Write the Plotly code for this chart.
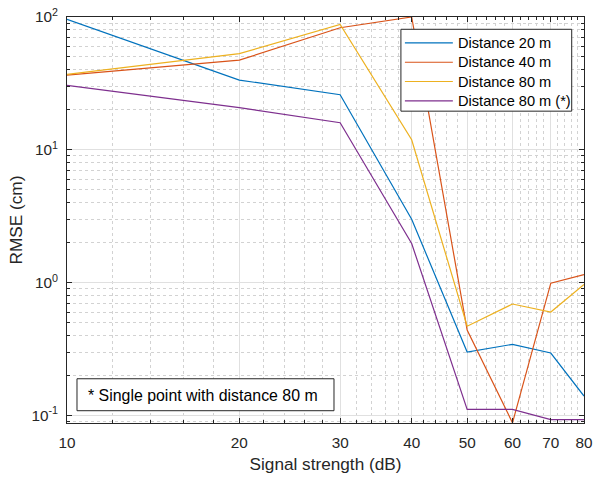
import plotly.graph_objects as go

signal_db = [10, 20, 30, 40, 50, 60, 70, 80]
rmse_20m = [96, 33.5, 26, 3.0, 0.30, 0.343, 0.295, 0.14]
rmse_40m = [36.5, 47.3, 83, 100, 0.44, 0.088, 0.99, 1.15]
rmse_80m = [37, 53, 88, 11.9, 0.47, 0.69, 0.60, 0.97]
rmse_80m_single = [30.6, 20.8, 16, 1.97, 0.111, 0.111, 0.093, 0.093]

series_names = ["Distance 20 m", "Distance 40 m", "Distance 80 m", "Distance 80 m (*)"]
series_colors = ["#0072BD", "#D95319", "#EDB120", "#7E2F8E"]

x_tick_vals = [10, 20, 30, 40, 50, 60, 70, 80]
x_tick_text = ["10", "20", "30", "40", "50", "60", "70", "80"]
y_tick_vals = [0.1, 1, 10, 100]
y_tick_text = ["10<sup>-1</sup>", "10<sup>0</sup>", "10<sup>1</sup>", "10<sup>2</sup>"]

note_text = "* Single point with distance 80 m"

x_minor = [v for v in range(12, 80, 2) if v % 10 != 0]
y_minor = [m * 10 ** e for e in (-2, -1, 0, 1) for m in range(2, 10)]

FONT = "Liberation Sans, Arial, sans-serif"
W, H = 593, 478
ML, MR, MT, MB = 66.7, 8.7, 16.7, 54.7
PW, PH = W - ML - MR, H - MT - MB


def px(x):
    return (x - ML) / PW


def py(y):
    return 1 - (y - MT) / PH


fig = go.Figure()
for vals, name, col in zip([rmse_20m, rmse_40m, rmse_80m, rmse_80m_single], series_names, series_colors):
    fig.add_trace(go.Scatter(x=signal_db, y=vals, mode="lines", name=name,
                             line=dict(color=col, width=1.2), showlegend=False))

axis_common = dict(
    type="log", automargin=False,
    showline=True, linecolor="#262626", linewidth=1, mirror="allticks",
    ticks="inside", ticklen=5, tickcolor="#262626", tickwidth=1,
    showgrid=True, gridcolor="#e0e0e0", gridwidth=1,
    zeroline=False, ticklabeloverflow="allow",
    tickfont=dict(family=FONT, size=15.3, color="#262626"),
)

fig.update_layout(
    width=W, height=H,
    margin=dict(l=ML, r=MR, t=MT, b=MB, autoexpand=False),
    paper_bgcolor="white", plot_bgcolor="white",
    font=dict(family=FONT, color="#262626"),
    xaxis=dict(**axis_common, range=[1, 1.90309],
               tickmode="array", tickvals=x_tick_vals, ticktext=x_tick_text,
               minor=dict(tickmode="array", tickvals=x_minor, ticks="inside", ticklen=3,
                          tickcolor="#262626", showgrid=True, gridcolor="#d2d2d2", griddash="dot"),
               title=dict(text="Signal strength (dB)", font=dict(family=FONT, size=17.2, color="#262626"), standoff=7),
               ticklabelstandoff=6),
    yaxis=dict(**axis_common, range=[-1.057, 2],
               tickmode="array", tickvals=y_tick_vals, ticktext=y_tick_text,
               minor=dict(tickmode="array", tickvals=y_minor, ticks="inside", ticklen=3,
                          tickcolor="#262626", showgrid=True, gridcolor="#d2d2d2", griddash="dot"),
               title=dict(text="RMSE (cm)", font=dict(family=FONT, size=17.2, color="#262626"), standoff=4),
               ticklabelstandoff=5),
    showlegend=False,
)

# Legend box (MATLAB style)
fig.add_shape(type="rect", xref="paper", yref="paper",
              x0=px(401), x1=px(572), y0=py(111), y1=py(29),
              line=dict(color="#262626", width=1), fillcolor="white", layer="above")
row_y = [42.7, 62.0, 81.3, 100.7]
for name, col, ry in zip(series_names, series_colors, row_y):
    fig.add_shape(type="line", xref="paper", yref="paper",
                  x0=px(405), x1=px(453), y0=py(ry), y1=py(ry),
                  line=dict(color=col, width=1.2), layer="above")
    fig.add_annotation(x=px(456.5), y=py(ry), xref="paper", yref="paper",
                       xanchor="left", yanchor="middle", showarrow=False,
                       text=name, font=dict(family=FONT, size=14.6, color="#000000"))

# Note box
fig.add_shape(type="rect", xref="paper", yref="paper",
              x0=px(76.7), x1=px(334), y0=py(411), y1=py(379),
              line=dict(color="#262626", width=1), fillcolor="white", layer="above")
fig.add_annotation(x=px(85.5), y=py(395.5), xref="paper", yref="paper",
                   xanchor="left", yanchor="middle", showarrow=False,
                   text=note_text, font=dict(family=FONT, size=15.9, color="#000000"))

fig.write_html("out.html",
               config={"displayModeBar": False},
               post_script="document.body.style.margin='0';document.body.style.padding='0';")
